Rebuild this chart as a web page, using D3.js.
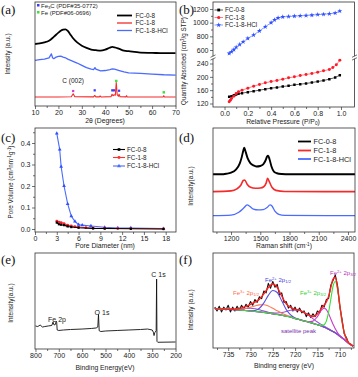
<!DOCTYPE html>
<html><head><meta charset="utf-8">
<script src="https://cdn.jsdelivr.net/npm/d3@7/dist/d3.min.js"></script>
<style>body{margin:0;background:#fff}svg{display:block}</style>
</head><body><script>
// ---------- (a) XRD ----------
const XRD_TICKS = [10,20,30,40,50,60,70];
const XRD_2T_BLACK = [10,12,14,16,18,20,21,22,23,24,25,26,28,30,32,34,36,38,40,42,43,44,46,48,50,55,60,65,70];
const XRD_FC08 = [57.0,57.6,58.6,60.3,64.2,68.5,70.5,71.5,71.9,70.2,66.9,63.6,58.6,55.3,53.0,51.3,50.7,50.3,51.3,53.3,54.0,53.6,52.0,50.3,49.7,48.3,48.0,47.7,47.7];
const XRD_2T_BLUE = [10,12,14,16,17,17.5,18,19,20,21,22,23,24,26,28,30,32,34,35,35.6,36,38,40,42,43,44,46,48,50,55,60,65,70];
const XRD_FC18HCL = [40.4,41.1,41.7,43.0,47.0,43.0,42.1,43.7,44.4,44.7,43.7,43.0,41.7,39.7,37.7,35.4,33.1,31.5,31.1,33.1,31.5,29.8,30.1,31.1,31.8,31.5,30.1,28.8,27.8,27.2,26.5,25.8,25.5];
const XRD_2T_RED = [10,20,25.5,26.3,27,35,35.5,36,37.5,37.8,38.2,42.5,42.9,43.3,43.8,44.3,44.7,45.1,45.6,45.9,46.3,48.8,49.1,49.4,64.7,65,65.3,70];
const XRD_FC18 = [3.3,3.3,3.5,6.5,3.5,3.4,4.8,3.4,3.4,4.3,3.3,3.6,6.0,4.5,5.5,5.0,18,5.5,4.0,6.0,3.5,3.4,4.6,3.3,3.3,4.6,3.3,3.2];
const XRD_FE3C_2T = [35.5,43.0,43.7,45.9];
const XRD_FE3C_Y = [10,10,10,9.6];
const XRD_FE_2T = [44.7,65];
const XRD_FE_Y = [19.5,8];
const XRD_C002_2T = [26.3];
const XRD_C002_Y = [9.3];
// ---------- (b) N2 isotherms ----------
const BET_TICKS = [0,0.2,0.4,0.6,0.8,1.0];
const BET_LOW_TICKS = [120,160,200,240];
const BET_HIGH_TICKS = [600,800,1000,1200];
const BET_P_BLACK = [0.04,0.06,0.08,0.1,0.12,0.15,0.2,0.25,0.3,0.35,0.4,0.45,0.5,0.55,0.6,0.65,0.7,0.75,0.8,0.85,0.9,0.95,0.99];
const BET_FC08 = [140,142,145,147,149,151,154,157,160,163,166,168,171,173,176,178,180,183,186,189,193,198,205];
const BET_P_RED = [0.04,0.05,0.06,0.08,0.1,0.12,0.15,0.2,0.25,0.3,0.35,0.4,0.45,0.5,0.55,0.6,0.65,0.7,0.75,0.8,0.85,0.9,0.93,0.96,0.99];
const BET_FC18 = [125,130,135,142,150,155,160,166,172,177,182,186,189,193,197,200,204,207,210,214,218,222,228,236,250];
const BET_P_BLUE = [0.04,0.06,0.08,0.1,0.13,0.16,0.2,0.25,0.3,0.35,0.4,0.43,0.46,0.5,0.55,0.6,0.65,0.7,0.75,0.8,0.85,0.9,0.95,0.99];
const BET_FC18HCL = [550,575,605,640,680,720,770,820,880,940,1000,1040,1070,1085,1090,1095,1100,1105,1110,1118,1122,1130,1140,1170];
// ---------- (c) pore size ----------
const PSD_XTICKS = [0,3,6,9,12,15,18];
const PSD_YTICKS = [0,0.1,0.2,0.3,0.4];
const PSD_D_BLUE = [3.0,3.4,3.6,4.0,4.5,5.0,5.5,6.0,6.5,7.7,9.6,11.4,13.2,17.7];
const PSD_FC18HCL = [0.445,0.37,0.29,0.2,0.117,0.06,0.035,0.02,0.018,0.014,0.008,0.005,0.005,0.002];
const PSD_D_RED = [3.0,3.3,3.6,4.0,4.5,5.0,5.5,6.0,7.0,8.0,9.6,11.4,13.2,17.7];
const PSD_FC18 = [0.037,0.032,0.03,0.025,0.018,0.014,0.011,0.009,0.006,0.004,0.003,0.002,0.002,0.001];
const PSD_D_BLACK = [3.0,3.3,3.6,4.0,4.5,5.0,6.0,8.0,9.6,13.2,17.7];
const PSD_FC08 = [0.03,0.022,0.02,0.018,0.012,0.009,0.006,0.003,0.002,0.001,0.0];
// ---------- (d) Raman ----------
const RAMAN_TICKS = [1200,1500,1800,2100,2400];
const RAMAN_X_BLACK = [1010,1100,1150,1200,1250,1290,1310,1325,1335,1350,1370,1400,1430,1460,1500,1530,1555,1570,1580,1595,1615,1640,1670,1720,1800,2000,2200,2480];
const RAMAN_FC08 = [55.5,55.5,56,57,60,66,72,78,81,77,71,66,64,63,63.5,65,69,72.5,73.4,70,63,58,56.5,55.8,55.5,55.5,55.5,55.5];
const RAMAN_X_RED = [1010,1200,1260,1300,1325,1340,1365,1400,1450,1500,1535,1560,1575,1590,1620,1660,1750,2480];
const RAMAN_FC18 = [38.8,39.5,41.5,45,49.5,50,46,43,42,42.3,43.5,47,51.6,49,43,40,39,38.8];
const RAMAN_X_BLUE = [1010,1200,1280,1330,1365,1395,1430,1480,1530,1570,1600,1620,1650,1690,1750,2480];
const RAMAN_FC18HCL = [15.7,16.3,19,23,26,24.5,22,21.2,21.5,23.5,26,25,20,17,16,15.7];
// ---------- (e) XPS survey ----------
const SURVEY_TICKS = [800,700,600,500,400,300,200];
const SURVEY_BE = [800,790,780,770,760,745,730,725,720,715,711,709,707,700,680,650,600,560,540,533,530,527,520,500,450,400,350,320,300,295,292,289,283,281,279.5,276,200];
const SURVEY_I = [24,23.4,25,22.9,23.4,24,24.5,28,25,25.5,29,27.5,19.8,19.3,19.8,20.3,20.8,21.4,21.9,22.9,36,19,18.2,18.75,19.3,19.8,20.3,20.8,19.8,17.5,14,17,19,72.9,8,7,7.3];
// ---------- (f) Fe 2p ----------
const FE_TICKS = [735,730,725,720,715,710];
const FE_BE = [738,737,736,735,734,733,732,731,730,729,728,727,726,725,724,723,722,721,720,719,718,717,716,715,714,713.5,713,712.5,712,711.5,711,710.5,710,709.5,709,708.5,708,707.5,707];
const FE_BACKGROUND = [41.5,41.2,41,40.7,40.5,40.1,39.8,39.4,39,38.5,38,37.5,36.8,36,35.3,34.5,33.5,32.5,31,29.8,28.5,27.3,26,24.5,23,22,21,19.8,18.5,17.3,16,14.3,12.5,10.8,9,7,5,3.5,2];
const FE_SATELLITE = [41.5,41.2,41,40.7,40.6,40.5,41.2,41.6,41.9,41.4,40.2,38.9,37.7,37.0,36.8,37.3,38.4,39.8,39.8,39.8,37.3,34.6,30.9,27.3,24.4,23.0,21.6,20.2,18.7,17.4,16,14.3,12.5,10.8,9,7,5,3.5,2];
const FE3_2P12 = [41.5,41.2,41,40.75,40.7,40.6,40.9,41.6,42.9,44.3,45.4,45.5,44.2,41.8,39.2,36.7,34.6,33,31.2,29.9,28.5,27.3,26,24.5,23,22,21,19.8,18.5,17.3,16,14.3,12.5,10.8,9,7,5,3.5,2];
const FE2_2P12 = [41.5,41.2,41,40.7,40.5,40.1,39.8,39.4,39.2,39.5,41.8,47.5,55.4,60.6,58.4,49.7,40.6,34.9,31.6,29.9,28.5,27.3,26,24.5,23,22,21,19.8,18.5,17.3,16,14.3,12.5,10.8,9,7,5,3.5,2];
const FE2_2P32 = [41.5,41.2,41,40.7,40.5,40.1,39.8,39.4,39,38.5,38,37.5,36.8,36,35.3,34.5,33.5,32.5,31,29.8,28.5,27.65,28.3,33.1,40.3,41.8,40.5,36.3,30.6,24.9,20.4,16.3,13.3,11.1,9.1,7,5,3.5,2];
const FE3_2P32 = [41.5,41.2,41,40.7,40.5,40.1,39.8,39.4,39,38.5,38,37.5,36.8,36,35.3,34.5,33.5,32.5,31,29.8,28.5,27.3,26,24.5,23.6,24.4,28.3,37.4,51.3,65,70,62,45.3,28.4,16.3,9.4,5.6,3.6,2];
const FE_FIT = [41.5,41.2,41.0,40.7,40.8,41.0,42.3,43.8,46.0,48.2,51.4,57.0,63.7,67.4,63.8,54.7,46.6,42.7,40.6,39.9,37.3,35.0,33.2,35.9,42.3,45.2,48.4,54.3,63.6,72.6,74.4,64.0,46.1,28.7,16.4,9.4,5.6,3.6,2];
const FE_RAW_BE = [738,737.5,737,736.5,736,735.5,735,734.5,734,733.5,733,732.5,732,731.5,731,730.5,730,729.5,729,728.5,728,727.5,727,726.5,726,725.5,725,724.5,724,723.5,723,722.5,722,721.5,721,720.5,720,719.5,719,718.5,718,717.5,717,716.5,716,715.5,715,714.5,714,713.5,713,712.5,712,711.5,711,710.5,710,709.5,709,708.5,708,707.5,707];
const FE_RAW = [43,39,44,38,43,40,45,38,43,39,44,40,45,41,46,43,49,45,51,48,54,52,60,58,68,63,70,64,67,56,58,48,49,42,45,39,43,38,42,37,39,33,37,32,36,33,39,37,45,43,51,52,66,71,77,66,44,31,15,11,5,4,2];

const svg = d3.select('body').append('svg').attr('width',358).attr('height',377);
const SANS = '"Liberation Sans", Arial, Helvetica, sans-serif';
const SERIF = '"Liberation Serif", "Times New Roman", serif';
const AX = '#333';
let cid = 0;

function frame(l,t,r,b){
  svg.append('rect').attr('x',l).attr('y',t).attr('width',r-l).attr('height',b-t)
    .attr('fill','none').attr('stroke',AX).attr('stroke-width',0.8);
}
function clipG(l,t,r,b){
  const id = 'clip'+(cid++);
  svg.append('clipPath').attr('id',id).append('rect').attr('x',l).attr('y',t).attr('width',r-l).attr('height',b-t);
  return svg.append('g').attr('clip-path',`url(#${id})`);
}
function styleAxis(g,fs){
  g.select('.domain').remove();
  g.selectAll('line').attr('stroke',AX).attr('stroke-width',0.7);
  g.selectAll('text').attr('font-family',SANS).attr('font-size',fs||7).attr('fill','#222');
}
function bottomAxis(x,yPos,majors,minors,fmt){
  if(minors) svg.append('g').attr('transform',`translate(0,${yPos})`)
    .call(d3.axisBottom(x).tickValues(minors).tickSize(2).tickFormat('')).call(g=>styleAxis(g));
  svg.append('g').attr('transform',`translate(0,${yPos})`)
    .call(d3.axisBottom(x).tickValues(majors).tickSize(3).tickPadding(1.5).tickFormat(fmt||(d=>d))).call(g=>styleAxis(g));
}
function leftAxis(y,xPos,majors,minors,fmt){
  if(minors) svg.append('g').attr('transform',`translate(${xPos},0)`)
    .call(d3.axisLeft(y).tickValues(minors).tickSize(2).tickFormat('')).call(g=>styleAxis(g));
  svg.append('g').attr('transform',`translate(${xPos},0)`)
    .call(d3.axisLeft(y).tickValues(majors).tickSize(3).tickPadding(1.5).tickFormat(fmt||(d=>d))).call(g=>styleAxis(g));
}
function drawLine(g,x,y,xs,ys,color,w,curve){
  const ln = d3.line().x(d=>x(d[0])).y(d=>y(d[1]));
  if(curve) ln.curve(curve);
  g.append('path').datum(xs.map((d,i)=>[d,ys[i]])).attr('d',ln)
    .attr('fill','none').attr('stroke',color).attr('stroke-width',w).attr('stroke-linejoin','round');
}
function drawMarks(g,x,y,xs,ys,color,type,size){
  g.selectAll(null).data(xs.map((d,i)=>[d,ys[i]])).enter().append('path')
    .attr('transform',d=>`translate(${x(d[0])},${y(d[1])})`)
    .attr('d',d3.symbol().type(type).size(size)).attr('fill',color);
}
function text(x,y,str,opt){
  opt = opt||{};
  const t = svg.append('text').attr('x',x).attr('y',y).attr('font-family',opt.family||SANS)
    .attr('font-size',opt.size||6.5).attr('fill',opt.fill||'#222').attr('text-anchor',opt.anchor||'start');
  if(opt.rotate) t.attr('transform',`rotate(-90,${x},${y})`);
  if(Array.isArray(str)){
    str.forEach(p=>{
      const s = t.append('tspan').text(p.t);
      if(p.sub){ s.attr('font-size',(opt.size||6.5)*0.7).attr('baseline-shift','-25%'); }
      if(p.sup){ s.attr('font-size',(opt.size||6.5)*0.7).attr('baseline-shift','40%'); }
    });
  } else t.text(str);
  return t;
}
function panelLabel(x,y,s){ text(x,y,s,{family:SERIF,size:13,fill:'#111'}); }

const BLACK='#000', RED='#f52a2a', BLUE='#4a6bff';

// ================= (a) =================
{
  const L=35,T=2,R=176,B=106;
  const x = d3.scaleLinear().domain([10,70]).range([35,175.5]);
  const y = d3.scaleLinear().domain([0,100]).range([100.2,1.6]);
  const g = clipG(L,T,R,B);
  drawLine(g,x,y,XRD_2T_BLACK,XRD_FC08,BLACK,1.8,d3.curveMonotoneX);
  drawLine(g,x,y,XRD_2T_BLUE,XRD_FC18HCL,BLUE,1.3);
  drawLine(g,x,y,XRD_2T_RED,XRD_FC18,RED,1.1);
  drawMarks(g,x,y,XRD_FE3C_2T,XRD_FE3C_Y,'#3b3bff',d3.symbolSquare,5);
  drawMarks(g,x,y,XRD_FE_2T,XRD_FE_Y,'#3ee03e',d3.symbolSquare,6);
  drawMarks(g,x,y,XRD_C002_2T,XRD_C002_Y,'#d03cd0',d3.symbolSquare,5);
  frame(L,T,R,B);
  bottomAxis(x,B,XRD_TICKS,[15,25,35,45,55,65]);
  text(x(26.3),y(17),'C (002)',{anchor:'middle',size:6.5});
  // legends
  svg.append('rect').attr('x',37).attr('y',4).attr('width',2.5).attr('height',2.5).attr('fill','#3b3bff');
  text(41,7.5,[{t:'Fe'},{t:'3',sub:true},{t:'C (PDF#35-0772)'}],{size:6});
  svg.append('rect').attr('x',37).attr('y',11).attr('width',2.5).attr('height',2.5).attr('fill','#3ee03e');
  text(41,14.5,'Fe (PDF#06-0696)',{size:6});
  [['FC-0-8',BLACK,15.5],['FC-1-8',RED,23],['FC-1-8-HCl',BLUE,30.5]].forEach(([n,c,yy])=>{
    svg.append('line').attr('x1',117).attr('x2',132).attr('y1',yy).attr('y2',yy).attr('stroke',c).attr('stroke-width',n==='FC-0-8'?1.8:1.3);
    text(135.5,yy+2.2,n,{size:6.3});
  });
  text(105,122.5,'2θ (Degrees)',{anchor:'middle',size:6.8});
  text(10,54,'Intensity (a.u.)',{anchor:'middle',size:6.5,rotate:true});
  panelLabel(1,14,'(a)');
}

// ================= (b) =================
{
  const L=213,T=2,R=354.5,B=107, BRK=57.5;
  const x = d3.scaleLinear().domain([-0.099,1.116]).range([L,R]);
  const yLow = d3.scaleLinear().domain([120,240]).range([103.5,63.5]);
  const yHigh = d3.scaleLinear().domain([600,1200]).range([50,9]);
  const gLow = clipG(L,BRK+1,R,B);
  const gHigh = clipG(L,T,R,BRK-1);
  drawLine(gLow,x,yLow,BET_P_BLACK,BET_FC08,'#333',0.8);
  drawMarks(gLow,x,yLow,BET_P_BLACK,BET_FC08,BLACK,d3.symbolSquare,6);
  drawLine(gLow,x,yLow,BET_P_RED,BET_FC18,'#ff6060',0.8);
  drawMarks(gLow,x,yLow,BET_P_RED,BET_FC18,'#ff1a2a',d3.symbolCircle,7);
  drawLine(gHigh,x,yHigh,BET_P_BLUE,BET_FC18HCL,'#6a86ff',0.8);
  drawMarks(gHigh,x,yHigh,BET_P_BLUE,BET_FC18HCL,'#3050ff',d3.symbolStar,8);
  frame(L,T,R,B);
  // axis break
  [L,R].forEach(xx=>{
    svg.append('rect').attr('x',xx-2.5).attr('y',BRK-1.3).attr('width',5).attr('height',2.6).attr('fill','#fff');
    [-1.4,1.4].forEach(o=>svg.append('line').attr('x1',xx-2.5).attr('x2',xx+2.5).attr('y1',BRK+o+1.2).attr('y2',BRK+o-1.2).attr('stroke',AX).attr('stroke-width',0.7));
  });
  bottomAxis(x,B,BET_TICKS,[0.1,0.3,0.5,0.7,0.9],d3.format('.1f'));
  leftAxis(yLow,L,BET_LOW_TICKS,[140,180,220]);
  leftAxis(yHigh,L,BET_HIGH_TICKS,[700,900,1100]);
  // legend
  [['FC-0-8','#333',BLACK,d3.symbolSquare,10],['FC-1-8','#ff6060','#ff1a2a',d3.symbolCircle,17.5],['FC-1-8-HCl','#6a86ff','#3050ff',d3.symbolStar,25]].forEach(([n,lc,mc,sym,yy])=>{
    svg.append('line').attr('x1',214.5).attr('x2',223).attr('y1',yy).attr('y2',yy).attr('stroke',lc).attr('stroke-width',0.8);
    svg.append('path').attr('transform',`translate(218.7,${yy})`).attr('d',d3.symbol().type(sym).size(8)).attr('fill',mc);
    text(225,yy+2.2,n,{size:6.3});
  });
  text(283,123.5,[{t:'Relative Pressure (P/P'},{t:'0',sub:true},{t:')'}],{anchor:'middle',size:6.8});
  text(186,61,[{t:'Quantity Absorbed (cm'},{t:'3',sup:true},{t:'/g STP)'}],{anchor:'middle',size:6.3,rotate:true});
  panelLabel(179,14,'(b)');
}

// ================= (c) =================
{
  const L=35,T=128,R=176,B=232;
  const x = d3.scaleLinear().domain([0,19.42]).range([L,R]);
  const y = d3.scaleLinear().domain([0,0.4]).range([229,143]);
  const g = clipG(L,T,R,B);
  drawLine(g,x,y,PSD_D_BLUE,PSD_FC18HCL,'#4a6bff',1.1);
  drawMarks(g,x,y,PSD_D_BLUE,PSD_FC18HCL,'#3050ff',d3.symbolTriangle,6);
  drawLine(g,x,y,PSD_D_RED,PSD_FC18,'#ff4040',1.1);
  drawMarks(g,x,y,PSD_D_RED,PSD_FC18,'#ff1a2a',d3.symbolCircle,6);
  drawLine(g,x,y,PSD_D_BLACK,PSD_FC08,BLACK,1.1);
  drawMarks(g,x,y,PSD_D_BLACK,PSD_FC08,BLACK,d3.symbolSquare,5);
  frame(L,T,R,B);
  bottomAxis(x,B,PSD_XTICKS,[1.5,4.5,7.5,10.5,13.5,16.5]);
  leftAxis(y,L,PSD_YTICKS,[0.05,0.15,0.25,0.35,0.45],d3.format('.1f'));
  [['FC-0-8',BLACK,d3.symbolSquare,149.5],['FC-1-8','#ff3030',d3.symbolCircle,157.5],['FC-1-8-HCl','#4a6bff',d3.symbolTriangle,166]].forEach(([n,c,sym,yy])=>{
    svg.append('line').attr('x1',113).attr('x2',125).attr('y1',yy).attr('y2',yy).attr('stroke',c).attr('stroke-width',1.1);
    svg.append('path').attr('transform',`translate(119,${yy})`).attr('d',d3.symbol().type(sym).size(7)).attr('fill',c);
    text(127,yy+2.2,n,{size:6.3});
  });
  text(105,248,'Pore Diameter (nm)',{anchor:'middle',size:6.8});
  text(13,182,[{t:'Pore Volume (cm'},{t:'3',sup:true},{t:'nm'},{t:'-1',sup:true},{t:'g'},{t:'-1',sup:true},{t:')'}],{anchor:'middle',size:6.3,rotate:true});
  panelLabel(1,142,'(c)');
}

// ================= (d) =================
{
  const L=213,T=128,R=355,B=232;
  const x = d3.scaleLinear().domain([1015,2472]).range([L,R]);
  const y = d3.scaleLinear().domain([0,100]).range([B,T]);
  const g = clipG(L,T,R,B);
  drawLine(g,x,y,RAMAN_X_BLACK,RAMAN_FC08,BLACK,1.9,d3.curveMonotoneX);
  drawLine(g,x,y,RAMAN_X_RED,RAMAN_FC18,RED,1.6,d3.curveMonotoneX);
  drawLine(g,x,y,RAMAN_X_BLUE,RAMAN_FC18HCL,BLUE,1.3,d3.curveMonotoneX);
  frame(L,T,R,B);
  bottomAxis(x,B,RAMAN_TICKS,[1050,1350,1650,1950,2250]);
  [['FC-0-8',BLACK,141.5],['FC-1-8',RED,150.5],['FC-1-8-HCl',BLUE,159]].forEach(([n,c,yy])=>{
    svg.append('line').attr('x1',298).attr('x2',311).attr('y1',yy).attr('y2',yy).attr('stroke',c).attr('stroke-width',1.8);
    text(313.5,yy+2.6,n,{size:7.3});
  });
  text(284,248,[{t:'Raman shift (cm'},{t:'-1',sup:true},{t:')'}],{anchor:'middle',size:6.8});
  text(193,186,'Intensity(a.u.)',{anchor:'middle',size:6.5,rotate:true});
  panelLabel(179,142,'(d)');
}

// ================= (e) =================
{
  const L=35,T=253,R=176,B=349;
  const x = d3.scaleLinear().domain([802,198]).range([L,R]);
  const y = d3.scaleLinear().domain([0,100]).range([B,T]);
  const g = clipG(L,T,R,B);
  drawLine(g,x,y,SURVEY_BE,SURVEY_I,'#111',0.9);
  frame(L,T,R,B);
  bottomAxis(x,B,SURVEY_TICKS,[750,650,550,450,350,250]);
  text(57,322,'Fe 2p',{anchor:'middle',size:7});
  text(102,314.5,'O 1s',{anchor:'middle',size:7});
  text(158.5,277,'C 1s',{anchor:'middle',size:7});
  text(105,370,'Binding Energy(eV)',{anchor:'middle',size:6.8});
  text(13,303,'Intensity(a.u.)',{anchor:'middle',size:6.5,rotate:true});
  panelLabel(1,264,'(e)');
}

// ================= (f) =================
{
  const L=213,T=253,R=354,B=348;
  const x = d3.scaleLinear().domain([738.4,706.8]).range([L,R]);
  const y = d3.scaleLinear().domain([0,100]).range([B,T]);
  const g = clipG(L,T,R,B);
  drawLine(g,x,y,FE_RAW_BE,FE_RAW,'#111',1.1);
  drawLine(g,x,y,FE_BE,FE_BACKGROUND,'#6a1fa8',1.3,d3.curveMonotoneX);
  drawLine(g,x,y,FE_BE,FE_SATELLITE,'#9b4fd6',1.1,d3.curveMonotoneX);
  drawLine(g,x,y,FE_BE,FE3_2P12,'#ff7a5a',1.1,d3.curveMonotoneX);
  drawLine(g,x,y,FE_BE,FE2_2P12,'#5a4fe0',1.1,d3.curveMonotoneX);
  drawLine(g,x,y,FE_BE,FE2_2P32,'#c83cc8',1.1,d3.curveMonotoneX);
  drawLine(g,x,y,FE_BE,FE3_2P32,'#35e035',1.1,d3.curveMonotoneX);
  drawLine(g,x,y,FE_BE,FE_FIT,'#ff2020',1.4,d3.curveMonotoneX);
  frame(L,T,R,B);
  bottomAxis(x,B,FE_TICKS,[737.5,732.5,727.5,722.5,717.5,712.5,707.5]);
  text(233,294.5,[{t:'Fe'},{t:'3+',sup:true},{t:' 2p'},{t:'1/2',sub:true}],{size:6,fill:'#ff6a4a'});
  text(265,282,[{t:'Fe'},{t:'2+',sup:true},{t:' 2p'},{t:'1/2',sub:true}],{size:6,fill:'#4a40d8'});
  text(300,294.5,[{t:'Fe'},{t:'3+',sup:true},{t:' 2p'},{t:'3/2',sub:true}],{size:6,fill:'#2fd02f'});
  text(330,274.5,[{t:'Fe'},{t:'2+',sup:true},{t:' 2p'},{t:'3/2',sub:true}],{size:6,fill:'#c030c0'});
  text(281,333,'satellite peak',{size:6,fill:'#7a30b0'});
  text(284,367.5,'Binding energy (eV)',{anchor:'middle',size:6.8});
  text(193,310,'Intensity (a.u.)',{anchor:'middle',size:6.5,rotate:true});
  panelLabel(179,264,'(f)');
}
</script></body></html>
